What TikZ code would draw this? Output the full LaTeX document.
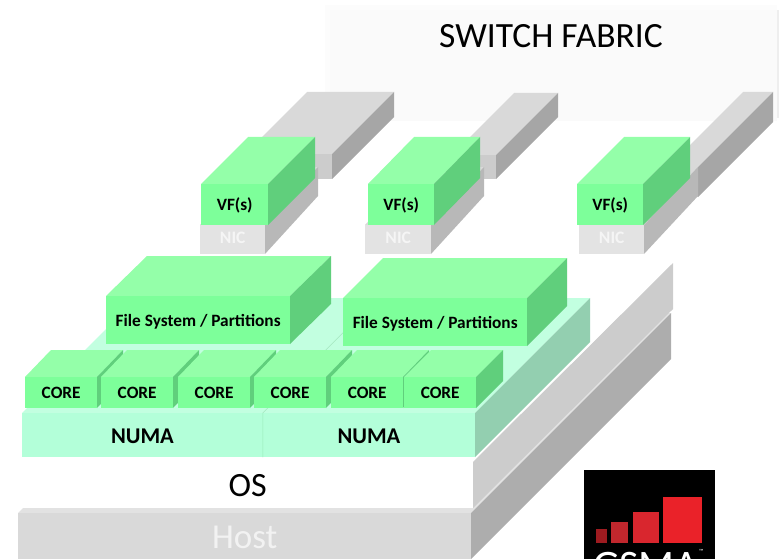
\documentclass[tikz,border=0pt]{standalone}
\usepackage{fontspec}
\setmainfont{Carlito}
\usepackage{tikz}

\tikzset{
  greentop/.style={fill={rgb,255:red,148;green,255;blue,169}},
  greenside/.style={fill={rgb,255:red,96;green,207;blue,124}},
  greenfront/.style={fill={rgb,255:red,125;green,255;blue,154},text height=12.4pt,text depth=0pt,font=\bfseries\fontsize{17.3}{17}\selectfont},
  minttop/.style={fill={rgb,255:red,194;green,255;blue,224}},
  mintside/.style={fill={rgb,255:red,147;green,207;blue,176}},
  mintfront/.style={fill={rgb,255:red,179;green,255;blue,217},text height=16.6pt,text depth=0pt,font=\bfseries\fontsize{22.5}{22}\selectfont},
  linktop/.style={fill={rgb,255:red,217;green,217;blue,217}},
  linkside/.style={fill={rgb,255:red,166;green,166;blue,166}},
  linkfront/.style={fill={rgb,255:red,204;green,204;blue,204}},
  nictop/.style={fill={rgb,255:red,217;green,217;blue,217}},
  nicside/.style={fill={rgb,255:red,184;green,184;blue,184}},
  nicfront/.style={fill={rgb,255:red,227;green,227;blue,227},text={rgb,255:red,245;green,245;blue,245},text height=7.6pt,text depth=0pt,font=\bfseries\fontsize{17.5}{17}\selectfont},
  ostop/.style={fill=white},
  osside/.style={fill={rgb,255:red,204;green,204;blue,204}},
  osfront/.style={fill=white,text height=23.4pt,text depth=0pt,font=\fontsize{34}{34}\selectfont},
  hosttop/.style={fill={rgb,255:red,226;green,226;blue,226}},
  hostside/.style={fill={rgb,255:red,173;green,173;blue,173}},
  hostfront/.style={fill={rgb,255:red,217;green,217;blue,217},text={rgb,255:red,242;green,242;blue,242},text height=24.6pt,text depth=0pt,font=\fontsize{35}{35}\selectfont},
}

% name, x, y, width, height, dx, dy, look, text
\newcommand{\cuboid}[9]{
  \fill[#8top] (#2,#3) -- ++(#6,-#7) -- ++(#4,0) -- ++(-#6,#7) -- cycle;
  \fill[#8side] (#2+#4,#3) -- ++(#6,-#7) -- ++(0,#5) -- ++(-#6,#7) -- cycle;
  \node[#8front,anchor=north west,inner sep=0pt,minimum width=#4pt,minimum height=#5pt] (#1) at (#2,#3) {#9};
}

\begin{document}
\begin{tikzpicture}[x=1pt,y=-1pt]
\useasboundingbox (0,0) rectangle (779,559);

% switch fabric
\fill [fill={rgb,255:red,252;green,252;blue,252}] (325,5) rectangle (777,121);
\node [anchor=north west,inner sep=0pt,minimum width=447pt,minimum height=111pt,fill={rgb,255:red,250;green,250;blue,250}] (fabric) at (330,10) {};
\fill [fill={rgb,255:red,238;green,238;blue,238}] (777,10) rectangle (779,118);
\node [font=\fontsize{35.5}{35}\selectfont] (fabriclabel) at (551,36) {SWITCH FABRIC};

% links up to the fabric
\cuboid{linka}{245}{154}{87}{25}{62}{62}{link}{}
\cuboid{linkb}{452}{155}{44}{24}{62}{62}{link}{}
\cuboid{linkc}{668}{167}{30}{30}{75}{75}{link}{}

% NICs and VFs
\cuboid{nica}{200}{225}{65}{29}{53}{58}{nic}{NIC}
\cuboid{nicb}{365}{225}{66}{29}{53}{58}{nic}{NIC}
\cuboid{nicc}{579}{225}{65}{29}{54}{58}{nic}{NIC}
\cuboid{vfa}{201}{184}{67}{41}{47}{47}{green}{VF(s)}
\cuboid{vfb}{368}{184}{66}{41}{46}{47}{green}{VF(s)}
\cuboid{vfc}{577}{184}{66}{41}{47}{47}{green}{VF(s)}

% host and OS
\cuboid{host}{18}{513}{453}{46}{200}{200}{host}{Host}
\cuboid{os}{22}{462}{451}{46}{200}{199}{os}{OS}

% NUMA
\cuboid{numaa}{22}{413}{240.5}{44}{115}{115}{mint}{NUMA}
\cuboid{numab}{262.5}{413}{212.5}{44}{115}{115}{mint}{NUMA}
\draw [green!45!black,opacity=0.15] (numaa.south east) -- (numaa.north east) -- ++(115,-115);

% file systems
\cuboid{fsa}{106}{296}{184}{48}{41}{40}{green}{File System / Partitions}
\cuboid{fsb}{343}{298}{184}{48}{40}{40}{green}{File System / Partitions}

% cores
\cuboid{corea}{25}{377}{72}{31}{26}{27}{green}{CORE}
\cuboid{coreb}{101}{377}{72}{31}{26}{27}{green}{CORE}
\cuboid{corec}{178}{377}{72}{31}{26}{27}{green}{CORE}
\cuboid{cored}{254}{377}{72}{31}{26}{27}{green}{CORE}
\cuboid{coree}{331}{377}{72}{31}{26}{27}{green}{CORE}
\cuboid{coref}{404}{377}{72}{31}{27}{27}{green}{CORE}

% GSMA logo
\begin{scope}
\clip (584,470) rectangle (715,559);
\fill [black] (584,470) rectangle (715,559);
\fill [fill={rgb,255:red,158;green,27;blue,32}] (596,529) rectangle (607,543);
\fill [fill={rgb,255:red,193;green,39;blue,45}] (611,522) rectangle (628,543);
\fill [fill={rgb,255:red,217;green,38;blue,46}] (633,512) rectangle (659,543);
\fill [fill={rgb,255:red,234;green,34;blue,41}] (663,497) rectangle (702,543);
\node [anchor=north,text=white,inner sep=0pt,font=\fontsize{42}{42}\selectfont] (logotext) at (646,552) {GSMA};
\node [anchor=north west,text=white,inner sep=0pt,font=\fontsize{6}{6}\selectfont] (logotm) at (699,549) {™};
\end{scope}
\end{tikzpicture}
\end{document}
